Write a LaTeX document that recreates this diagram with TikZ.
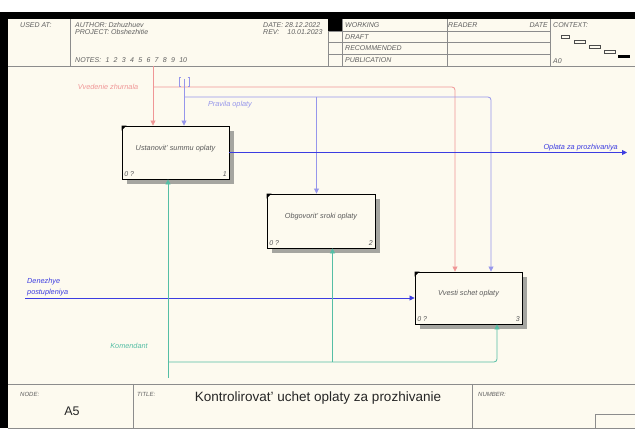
\documentclass[tikz,border=0pt]{standalone}
\usepackage{fontspec}
\setmainfont{Liberation Sans}
\usetikzlibrary{arrows.meta,calc,shadows}
\definecolor{paper}{RGB}{253,250,239}
\definecolor{gridcol}{RGB}{140,140,140}
\definecolor{hdrcol}{RGB}{95,95,95}
\definecolor{shadecol}{RGB}{165,165,160}
\definecolor{ctlred}{RGB}{240,150,150}
\definecolor{ctlblue}{RGB}{150,150,235}
\definecolor{iocol}{RGB}{60,60,225}
\definecolor{mechcol}{RGB}{85,190,165}
\newcommand{\nsp}{\hspace{4.3pt}}
\tikzset{
  hdr/.style={font=\fontsize{7}{8}\selectfont\itshape,text=hdrcol,anchor=west,inner sep=0pt},
  ttl/.style={font=\fontsize{6}{7}\selectfont\itshape,text=hdrcol,anchor=west,inner sep=0pt},
  fnbox/.style={draw=black,line width=0.9pt,fill=paper,minimum width=107pt,minimum height=53pt,
    inner sep=0pt,text depth=10pt,font=\fontsize{7.3}{8}\selectfont\itshape,text=black!65,
    drop shadow={shadow xshift=5pt,shadow yshift=-5pt,fill=shadecol,opacity=1}},
  tag/.style={font=\fontsize{7}{8}\selectfont\itshape,text=black!65,inner sep=2.5pt},
  lbl/.style={font=\fontsize{7.3}{10.5}\selectfont\itshape,inner sep=1pt},
  arr/.style={line width=0.8pt,-{Triangle[width=5pt,length=5pt]}},
}

\begin{document}
\begin{tikzpicture}[x=1pt,y=-1pt]
\useasboundingbox (0,0) rectangle (635,430);
% sheet and frame
\fill[white] (0,0) rectangle (635,430);
\fill[paper] (8,19) rectangle (635,428);
\fill[black] (0,12) rectangle (635,19);
\fill[black] (0,12) rectangle (8,428);
% header grid
\draw[gridcol,line width=0.6pt] (8,66) -- (635,66);
\foreach \x in {70,328,342,447,550}
  \draw[gridcol,line width=0.6pt] (\x,19) -- (\x,66);
\foreach \y in {31,42.7,54.3}
  \draw[gridcol,line width=0.6pt] (328,\y) -- (550,\y);
\fill[black] (328,19) rectangle (342,31);
% header texts
\node[hdr] (usedat) at (20,25) {USED AT:};
\node[hdr] (author) at (75,25) {AUTHOR:\ Dzhuzhuev};
\node[hdr] (project) at (75,32.5) {PROJECT:\ Obshezhitie};
\node[hdr] (notes) at (75,60) {NOTES:\nsp 1\nsp 2\nsp 3\nsp 4\nsp 5\nsp 6\nsp 7\nsp 8\nsp 9\nsp 10};
\node[hdr] (date) at (263,25) {DATE:\ 28.12.2022};
\node[hdr] (rev) at (263,32.5) {REV:\hspace{8pt}10.01.2023};
\foreach \t/\y [count=\i] in {WORKING/25,DRAFT/37,RECOMMENDED/48.5,PUBLICATION/60}
  \node[hdr] (row\i) at (345,\y) {\t};
\node[hdr] (reader) at (448,25) {READER};
\node[hdr,anchor=east] (rdate) at (548,25) {DATE};
\node[hdr] (context) at (553,25) {CONTEXT:};
\node[hdr] (ctxA0) at (553,61) {A0};
\foreach \x/\y/\w in {561/35/8,574/40/11,589/45/11,604/50/11}
  \draw[black!70,line width=0.5pt] (\x,\y) rectangle ++(\w,3);
\fill[black] (618,55) rectangle (630,58);
% footer
\draw[gridcol,line width=0.6pt] (8,384) -- (635,384);
\draw[gridcol,line width=0.6pt] (8,428) -- (635,428);
\draw[gridcol,line width=0.6pt] (133,384) -- (133,428);
\draw[gridcol,line width=0.6pt] (472,384) -- (472,428);
\draw[gridcol,line width=0.6pt] (595,414) rectangle (635,428);
\node[ttl] (nodeL) at (20,394) {NODE:};
\node[ttl] (titleL) at (137,394) {TITLE:};
\node[ttl] (numberL) at (478,394) {NUMBER:};
\node[font=\fontsize{12.5}{14}\selectfont,text=black!85] (nodeA5) at (72,411) {A5};
\node[font=\fontsize{13.5}{15}\selectfont,text=black!85] (titleT) at (318,398) {Kontrolirovat' uchet oplaty za prozhivanie};
% activities
\node[fnbox] (b1) at (175.5,152.5) {Ustanovit' summu oplaty};
\node[fnbox,minimum width=108pt,minimum height=54pt] (b2) at (321,221) {Obgovorit' sroki oplaty};
\node[fnbox,minimum height=52pt] (b3) at (468.5,298) {Vvesti schet oplaty};
\foreach \b/\n in {b1/1,b2/2,b3/3}{
  \fill[black] (\b.north west) -- ++(5,0) -- ++(-5,5) -- cycle;
  \node[tag,anchor=south west] (\b-zero) at (\b.south west) {0 ?};
  \node[tag,anchor=south east] (\b-num) at (\b.south east) {\n};
}
% controls
\coordinate (vzTop) at (153,66);
\coordinate (vzR) at (455,87);
\draw[arr,ctlred] (vzTop) -- (vzTop |- b1.north);
\draw[arr,ctlred,rounded corners=3pt] (vzTop |- vzR) -- (vzR) -- (vzR |- b3.north);
\coordinate (poTop) at (184,79);
\coordinate (poR) at (491,97);
\coordinate (poM) at (316.5,97);
\draw[arr,ctlblue] (poTop) -- (poTop |- b1.north);
\draw[arr,ctlblue,rounded corners=3pt] (poTop |- poR) -- (poR) -- (poR |- b3.north);
\draw[arr,ctlblue] (poM) -- (poM |- b2.north);
\draw[ctlblue,line width=0.7pt] (180.5,77) -- (179,77) -- (179,86) -- (180.5,86);
\draw[ctlblue,line width=0.7pt] (187.5,77) -- (189,77) -- (189,86) -- (187.5,86);
% input / output
\coordinate (opEnd) at (627,153);
\draw[arr,iocol] (b1.east) -- (b1.east -| opEnd);
\coordinate (dpStart) at (25,298);
\draw[arr,iocol] (dpStart) -- (b3.west);
% mechanism
\coordinate (koBot) at (168,378);
\coordinate (koR) at (497,362);
\coordinate (koM) at (332.5,362);
\draw[arr,mechcol] (koBot) -- (koBot |- b1.south);
\draw[arr,mechcol,rounded corners=3pt] (koBot |- koR) -- (koR) -- (koR |- b3.south);
\draw[arr,mechcol] (koM) -- (koM |- b2.south);
% arrow labels
\node[lbl,text=ctlred] (vzL) at (108,87) {Vvedenie zhurnala};
\node[lbl,text=ctlblue] (poL) at (230,105) {Pravila oplaty};
\node[lbl,text=iocol,anchor=south east] (opL) at (619,152) {Oplata za prozhivaniya};
\node[lbl,text=iocol,anchor=south west,align=left] (dpL) at (26,297) {Denezhye\\postupleniya};
\node[lbl,text=mechcol] (koL) at (129,346) {Komendant};
\end{tikzpicture}
\end{document}
